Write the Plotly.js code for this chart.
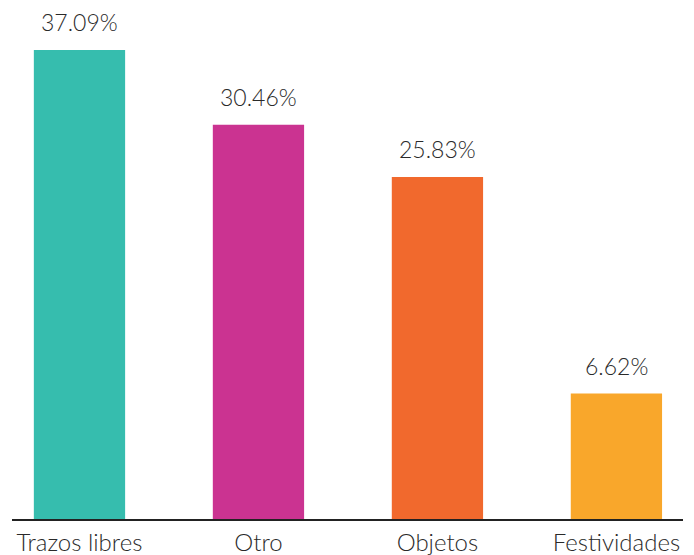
<!DOCTYPE html>
<html>
<head>
<meta charset="utf-8">
<script src="https://cdn.plot.ly/plotly-3.0.1.min.js"></script>
<style>html,body{margin:0;padding:0;background:#fff;}#chart{width:694px;height:555px;}</style>
</head>
<body>
<div id="chart"></div>
<script>
const categories = ["Trazos libres", "Otro", "Objetos", "Festividades"];
const values = [37.09, 30.46, 25.83, 6.62];
const valueLabels = ["37.09%", "30.46%", "25.83%", "6.62%"];
const colors = ["#36BDAE", "#CB3391", "#F1692D", "#F9A72B"];

const baseVal = -4.5;
const FONT = "Lato, 'Open Sans', sans-serif";

const trace = {
  type: "bar",
  x: categories,
  y: values.map(v => v - baseVal),
  base: categories.map(() => baseVal),
  width: 0.51,
  marker: {color: colors},
  hoverinfo: "skip"
};

const annotations = categories.map((c, i) => ({
  x: c, y: values[i], xref: "x", yref: "y",
  text: valueLabels[i], showarrow: false,
  yanchor: "bottom", yshift: 12,
  font: {family: FONT, size: 23, color: "#2a2a2a", weight: 300}
}));

const layout = {
  width: 694, height: 555,
  margin: {l: 12, r: 11, t: 10, b: 36},
  paper_bgcolor: "#fff", plot_bgcolor: "#fff",
  showlegend: false,
  xaxis: {
    type: "category",
    range: [-0.377, 3.372],
    showline: true, linecolor: "#222", linewidth: 1.5,
    ticks: "", showgrid: false, zeroline: false,
    ticklabelstandoff: 2,
    tickfont: {family: FONT, size: 24, color: "#2a2a2a", weight: 300}
  },
  yaxis: {
    range: [baseVal, 40.63],
    visible: false, showgrid: false, zeroline: false
  },
  annotations: annotations
};

Plotly.newPlot("chart", [trace], layout, {displayModeBar: false, staticPlot: true});
</script>
</body>
</html>
